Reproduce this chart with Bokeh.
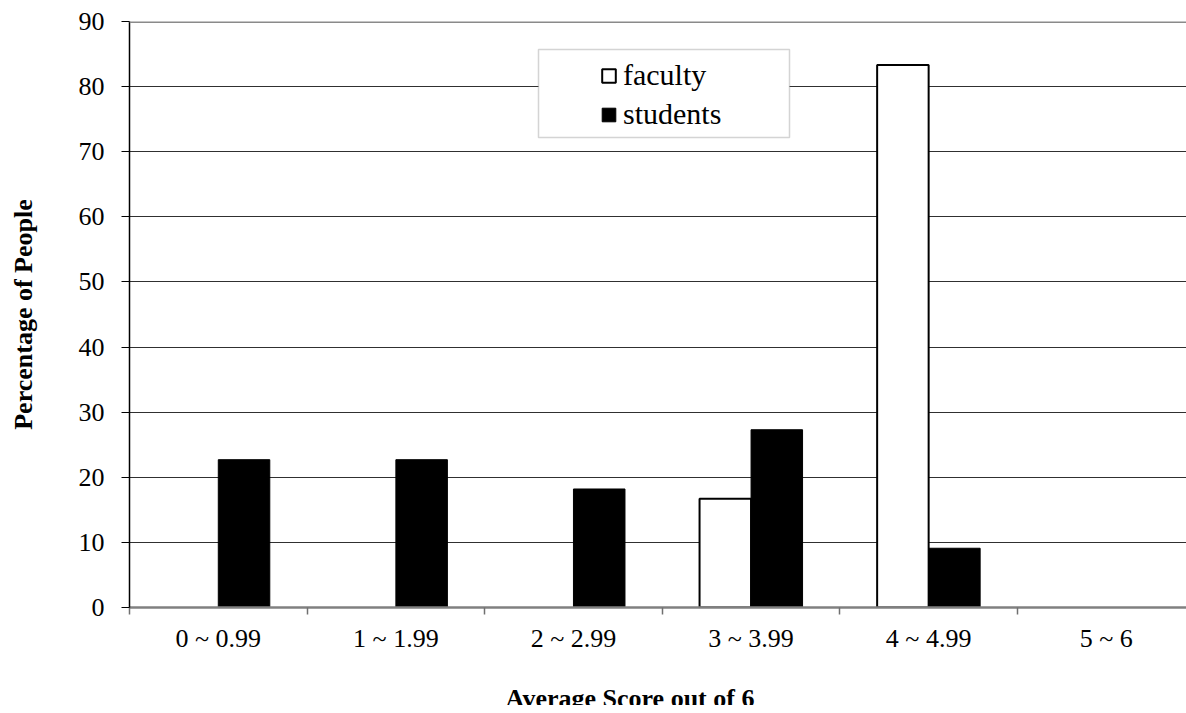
from bokeh.plotting import figure
from bokeh.layouts import column
from bokeh.models import (FixedTicker, Legend, LegendItem, BoxAnnotation, Span, Label,
                          ColumnDataSource, CDSView, BooleanFilter)
from bokeh.transform import dodge
from bokeh.embed import file_html
from bokeh.resources import INLINE

categories = ["0 ~ 0.99", "1 ~ 1.99", "2 ~ 2.99", "3 ~ 3.99", "4 ~ 4.99", "5 ~ 6"]
faculty = [0, 0, 0, 16.7, 83.3, 0]
students = [22.7, 22.7, 18.2, 27.3, 9.1, 0]
y_ticks = [0, 10, 20, 30, 40, 50, 60, 70, 80, 90]
series_names = ["faculty", "students"]
x_title = "Average Score out of 6"
y_title = "Percentage of People"

FONT = "Liberation Serif"
W = 1186
H_MAIN = 686
H_TITLE = 19
centers = [i + 0.5 for i in range(len(categories))]
src = ColumnDataSource(dict(x=centers, cat=categories, faculty=faculty, students=students))

p = figure(width=W, height=H_MAIN, x_range=(0, 5.952), y_range=(y_ticks[0], y_ticks[-1]),
           output_backend="svg", toolbar_location=None,
           min_border_left=129, min_border_right=0, min_border_top=21, min_border_bottom=79)
p.outline_line_color = None
p.background_fill_color = "white"

view_f = CDSView(filter=BooleanFilter([v > 0 for v in faculty]))
view_s = CDSView(filter=BooleanFilter([v > 0 for v in students]))

r_f = p.vbar(x=dodge("x", -0.145), top="faculty", width=0.29, source=src, view=view_f,
             fill_color="white", line_color="black", line_width=2)
r_s = p.vbar(x=dodge("x", 0.145), top="students", width=0.29, source=src, view=view_s,
             fill_color="black", line_color="black", line_width=1)

# x axis
p.xaxis.ticker = FixedTicker(ticks=centers, minor_ticks=list(range(len(categories) + 1)))
p.xaxis.major_label_overrides = {c: lab for c, lab in zip(centers, categories)}
p.xaxis.major_tick_line_color = None
p.xaxis.major_tick_out = 0
p.xaxis.major_tick_in = 0
p.xaxis.minor_tick_in = 0
p.xaxis.minor_tick_out = 7
p.xaxis.minor_tick_line_color = "#707070"
p.xaxis.minor_tick_line_width = 1.5
p.xaxis.axis_line_color = "#808080"
p.xaxis.axis_line_width = 2.5
p.xaxis.major_label_text_font = FONT
p.xaxis.major_label_text_font_size = "26px"
p.xaxis.major_label_text_color = "black"
p.xaxis.major_label_standoff = 9

# y axis
p.yaxis.ticker = FixedTicker(ticks=y_ticks)
p.yaxis.major_tick_in = 0
p.yaxis.major_tick_out = 8
p.yaxis.major_tick_line_color = "black"
p.yaxis.minor_tick_line_color = None
p.yaxis.axis_line_color = "black"
p.yaxis.axis_line_width = 1.5
p.yaxis.major_label_text_font = FONT
p.yaxis.major_label_text_font_size = "26px"
p.yaxis.major_label_text_color = "black"
p.yaxis.major_label_standoff = 17
p.yaxis.axis_label = y_title
p.yaxis.axis_label_text_font = FONT
p.yaxis.axis_label_text_font_size = "26px"
p.yaxis.axis_label_text_font_style = "bold"
p.yaxis.axis_label_text_color = "black"
p.yaxis.axis_label_standoff = 38

# grid
p.xgrid.grid_line_color = None
p.ygrid.ticker = FixedTicker(ticks=y_ticks[1:-1])
p.ygrid.grid_line_color = "#303030"
p.ygrid.grid_line_width = 1.2
p.add_layout(Span(location=y_ticks[-1], dimension="width", line_color="#8a8a8a", line_width=3))

# legend box + legend
box = BoxAnnotation(left=538, right=789, top=49, bottom=137,
                    left_units="canvas", right_units="canvas",
                    top_units="canvas", bottom_units="canvas",
                    fill_color="white", fill_alpha=1.0,
                    line_color="#707070", line_width=1.5)
p.add_layout(box)

legend = Legend(items=[LegendItem(label=series_names[0], renderers=[r_f]),
                       LegendItem(label=series_names[1], renderers=[r_s])],
                location=(471, 476), orientation="vertical",
                label_text_font=FONT, label_text_font_size="30px", label_text_color="black",
                label_height=30, glyph_height=17, glyph_width=17, label_standoff=6,
                spacing=5, padding=0, margin=0,
                border_line_color=None, background_fill_alpha=0)
p.add_layout(legend)

# strip below the chart holding the x-axis title
p2 = figure(width=W, height=H_TITLE, x_range=(0, 1), y_range=(0, 1),
            output_backend="svg", toolbar_location=None,
            x_axis_type=None, y_axis_type=None,
            min_border_left=0, min_border_right=0, min_border_top=0, min_border_bottom=0)
p2.outline_line_color = None
p2.grid.visible = False
p2.add_layout(Label(x=629.5, y=12, x_units="canvas", y_units="canvas", text=x_title,
                    text_font=FONT, text_font_size="26px", text_font_style="bold",
                    text_color="black", text_align="center", text_baseline="alphabetic"))

layout = column(p, p2, spacing=0)
open("out.html", "w").write(file_html(layout, INLINE))
